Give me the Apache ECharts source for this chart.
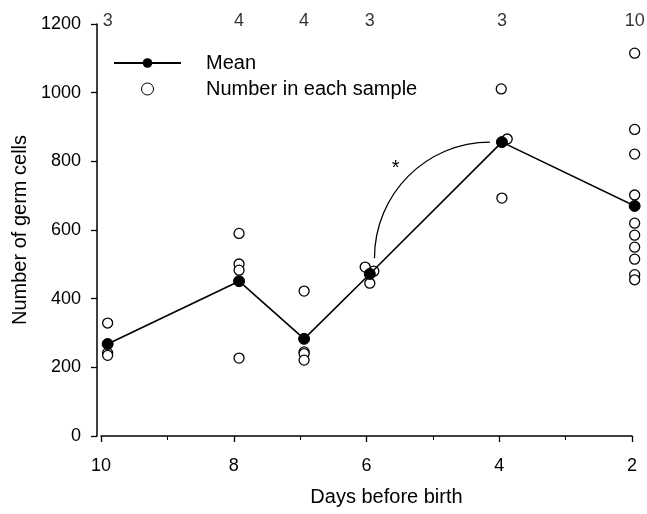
<!DOCTYPE html>
<html><head><meta charset="utf-8">
<script src="https://cdn.jsdelivr.net/npm/echarts@6/dist/echarts.min.js"></script>
<style>html,body{margin:0;padding:0;background:#fff}#c{width:647px;height:514px}</style>
</head><body><div id="c"></div>
<script>
// ---- data ----
const meanDays    = [9.90, 7.92, 6.94, 5.95, 3.96, 1.96];
const meanValues  = [268, 451, 283, 472, 856, 670];
const sampleCounts = [3, 4, 4, 3, 3, 10];
const sampleDays = [
  9.90, 9.90, 9.90,
  7.92, 7.92, 7.92, 7.92,
  6.94, 6.94, 6.94, 6.94,
  6.02, 5.89, 5.95,
  3.97, 3.88, 3.96,
  1.96, 1.96, 1.96, 1.96, 1.96, 1.96, 1.96, 1.96, 1.96, 1.96
];
const sampleValues = [
  329, 242, 235,
  590, 501, 483, 227,
  422, 245, 240, 221,
  492, 480, 445,
  1011, 865, 693,
  1115, 893, 821, 702, 620, 585, 550, 515, 470, 455
];
const xTickValues = [10, 8, 6, 4, 2];
const yTickValues = [0, 200, 400, 600, 800, 1000, 1200];
// significance annotation (data space)
const arcStart = [5.88, 518];
const arcEnd   = [4.14, 856];
const starPos  = [5.56, 780];
const starText = '*';

const FONT = 'Liberation Sans, Arial, Helvetica, sans-serif';
const chart = echarts.init(document.getElementById('c'), null, {renderer: 'canvas'});

const meanData = meanDays.map((d, i) => [d, meanValues[i]]);
const sampleData = sampleDays.map((d, i) => [d, sampleValues[i]]);
const countData = meanDays.map((d, i) => [d, yTickValues[yTickValues.length - 1], sampleCounts[i]]);

chart.setOption({
  animation: false,
  backgroundColor: '#fff',
  textStyle: {fontFamily: FONT},
  grid: {left: 101, right: 15, top: 24, bottom: 78, containLabel: false},
  legend: {
    orient: 'vertical', left: 113, top: 53, padding: 0,
    itemWidth: 67, itemHeight: 12, itemGap: 6,
    textStyle: {fontSize: 20, color: '#000', fontFamily: FONT, padding: [0, 0, 0, 20]},
    data: ['Mean', {name: 'Number in each sample', itemStyle: {borderWidth: 1}}],
    selectedMode: false
  },
  xAxis: {
    type: 'value', inverse: true, min: 2, max: 10, interval: 2,
    offset: 5,
    name: 'Days before birth', nameLocation: 'middle', nameGap: 46,
    nameTextStyle: {fontSize: 20, color: '#000', fontFamily: FONT, padding: [0, 0, 0, 40]},
    axisLine: {show: true, lineStyle: {color: '#000', width: 1.5}},
    axisTick: {show: true, length: 6, lineStyle: {color: '#000', width: 1.3}},
    minorTick: {show: true, splitNumber: 2, length: 4, lineStyle: {color: '#000', width: 1}},
    axisLabel: {fontSize: 18, color: '#000', margin: 16, fontFamily: FONT,
      customValues: xTickValues, formatter: v => String(v)},
    splitLine: {show: false}
  },
  yAxis: {
    type: 'value', min: 0, max: 1200, interval: 200,
    offset: 4,
    name: 'Number of germ cells', nameLocation: 'middle', nameGap: 66,
    nameTextStyle: {fontSize: 20, color: '#000', fontFamily: FONT},
    axisLine: {show: true, lineStyle: {color: '#000', width: 1.5}},
    axisTick: {show: true, length: 6, lineStyle: {color: '#000', width: 1.3}},
    axisLabel: {fontSize: 18, color: '#000', margin: 16, fontFamily: FONT, formatter: v => String(v)},
    splitLine: {show: false}
  },
  series: [
    {
      name: 'Mean', type: 'line', data: meanData, clip: false, z: 3,
      symbol: 'circle', symbolSize: 11, showSymbol: true,
      lineStyle: {color: '#000', width: 1.6},
      itemStyle: {color: '#000', borderColor: '#000'}
    },
    {
      name: 'Number in each sample', type: 'scatter', data: sampleData, clip: false, z: 2,
      symbol: 'circle', symbolSize: 10,
      itemStyle: {color: '#fff', borderColor: '#000', borderWidth: 1.3, opacity: 1}
    },
    {
      name: 'counts', type: 'scatter', data: countData, clip: false, silent: true,
      symbolSize: 0,
      label: {show: true, position: 'inside', offset: [0, -3], fontSize: 18, color: '#000',
        fontFamily: FONT, formatter: p => String(p.value[2])}
    }
  ]
});

function drawAnnotation() {
  const s = chart.convertToPixel({gridIndex: 0}, arcStart);
  const e = chart.convertToPixel({gridIndex: 0}, arcEnd);
  const cx = e[0], cy = s[1];
  const rx = cx - s[0], ry = cy - e[1];
  const k = 0.5523;
  const st = chart.convertToPixel({gridIndex: 0}, starPos);
  chart.setOption({
    graphic: [
      {type: 'bezierCurve', silent: true,
        shape: {x1: s[0], y1: s[1], cpx1: s[0], cpy1: cy - k * ry, cpx2: cx - k * rx, cpy2: e[1], x2: e[0], y2: e[1]},
        style: {stroke: '#000', lineWidth: 1.3, fill: null}},
      {type: 'text', silent: true, x: st[0], y: st[1],
        style: {text: starText, fontSize: 20, fill: '#000', align: 'center', verticalAlign: 'middle', fontFamily: FONT}}
    ]
  });
}
drawAnnotation();
</script>
</body></html>
